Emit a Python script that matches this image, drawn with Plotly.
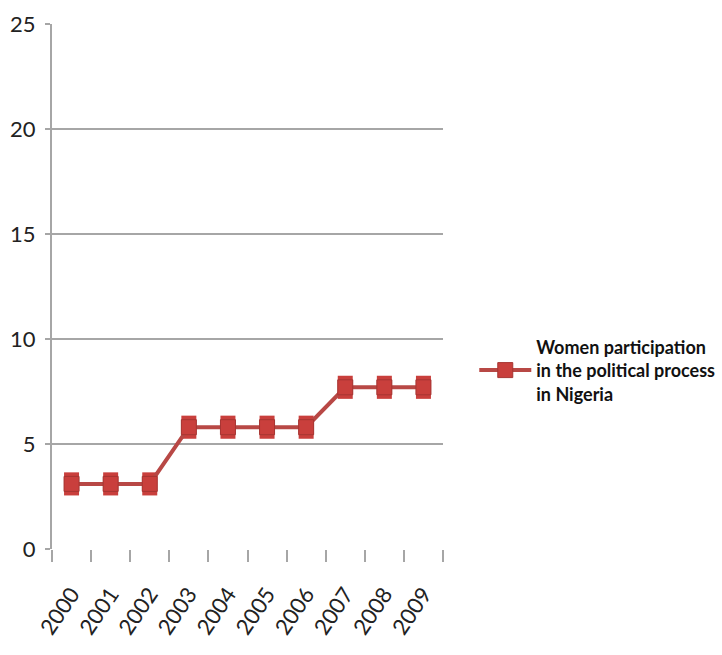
import plotly.graph_objects as go

years = ["2000", "2001", "2002", "2003", "2004", "2005", "2006", "2007", "2008", "2009"]
values = [3.1, 3.1, 3.1, 5.8, 5.8, 5.8, 5.8, 7.7, 7.7, 7.7]
series_name = "Women participation<br>in the political process<br>in Nigeria"
y_ticks = [0, 5, 10, 15, 20, 25]

marker_color = "#c93f3c"

fig = go.Figure()
fig.add_trace(go.Scatter(
    x=years, y=values, mode="lines+markers", name=series_name,
    line=dict(color="#b84845", width=4),
    marker=dict(symbol="square", size=15, color=marker_color,
                line=dict(color="#a63532", width=1)),
    error_y=dict(type="constant", value=0.55, thickness=15, width=0,
                 color=marker_color),
    showlegend=True,
))

font_family = "Lato, Open Sans, sans-serif"

fig.update_layout(
    width=722, height=655,
    margin=dict(l=52, r=279, t=24, b=106, autoexpand=False),
    paper_bgcolor="white", plot_bgcolor="white",
    font=dict(family=font_family, color="#222222"),
    xaxis=dict(
        type="category", range=[-0.5, 9.5],
        showgrid=False, showline=False,
        ticks="outside", tickson="boundaries", ticklen=12, tickwidth=2, tickcolor="#a6a6a6",
        tickangle=-56, tickfont=dict(size=22, family=font_family, color="#222222"),
        ticklabelstandoff=27,
        zeroline=False, automargin=False,
    ),
    yaxis=dict(
        range=[0, 25], tickvals=y_ticks,
        showgrid=True, gridcolor="#a6a6a6", gridwidth=2,
        showline=True, linecolor="#a6a6a6", linewidth=2,
        ticks="outside", ticklen=5, tickwidth=2, tickcolor="#a6a6a6",
        tickfont=dict(size=22, family=font_family, color="#222222"),
        ticklabelstandoff=5,
        zeroline=False, automargin=False,
    ),
    legend=dict(
        x=1.08, y=0.34, xanchor="left", yanchor="middle",
        font=dict(size=18, family="Lato, Open Sans, sans-serif", color="#111111", weight="bold"),
        bgcolor="rgba(0,0,0,0)", itemwidth=52,
    ),
)

fig.write_html("out.html")
